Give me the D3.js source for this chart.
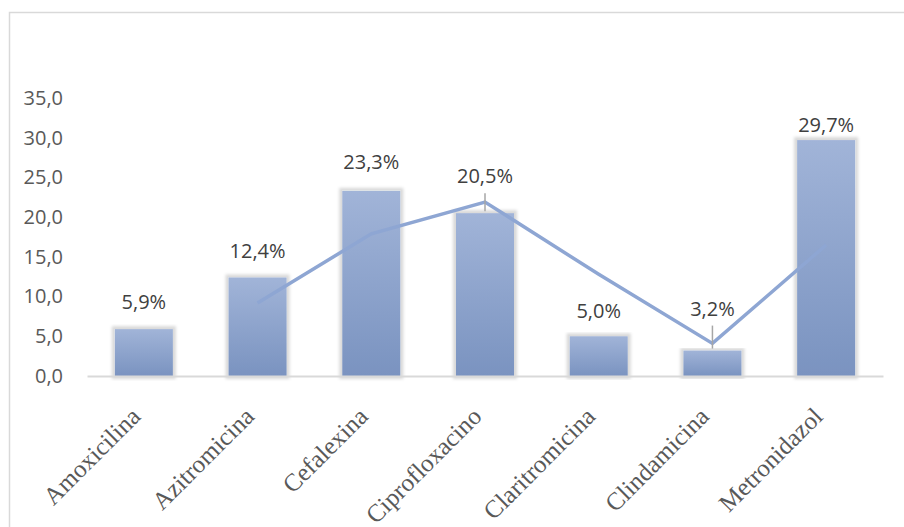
<!doctype html>
<meta charset="utf-8">
<script src="https://d3js.org/d3.v7.min.js"></script>
<style>
  body { margin: 0; background: #fff; }
</style>
<body></body>
<script>

var width = 904;
var height = 527;

// data
var categories = ["Amoxicilina", "Azitromicina", "Cefalexina", "Ciprofloxacino", "Claritromicina", "Clindamicina", "Metronidazol"];
var percents = [5.9, 12.4, 23.3, 20.5, 5.0, 3.2, 29.7];
var trend = [null, 9.2, 17.9, 21.9, 12.8, 4.1, 16.5];
var yTicks = [0, 5, 10, 15, 20, 25, 30, 35];

// label lift above bar top (px), and which labels get a leader line
var labelLift = {"Cefalexina": 22, "Ciprofloxacino": 30, "Claritromicina": 18, "Clindamicina": 35, "Metronidazol": 8};
var leaders = ["Ciprofloxacino", "Clindamicina"];

var svg = d3.select("body")
        .append("svg")
        .attr("width", width)
        .attr("height", height);

var defs = svg.append("defs");

var grad = defs.append("linearGradient")
        .attr("id", "barFill")
        .attr("x1", 0).attr("y1", 0)
        .attr("x2", 0).attr("y2", 1);
grad.append("stop").attr("offset", "0%").attr("stop-color", "#a1b4d8");
grad.append("stop").attr("offset", "100%").attr("stop-color", "#7a93c0");

var shadow = defs.append("filter")
        .attr("id", "shadow")
        .attr("x", "-30%").attr("y", "-10%")
        .attr("width", "160%").attr("height", "120%");
shadow.append("feMorphology")
        .attr("in", "SourceAlpha")
        .attr("operator", "dilate")
        .attr("radius", 3)
        .attr("result", "grown");
shadow.append("feGaussianBlur")
        .attr("in", "grown")
        .attr("stdDeviation", 1.5)
        .attr("result", "blur");
shadow.append("feFlood").attr("flood-color", "#000").attr("flood-opacity", 0.15);
shadow.append("feComposite").attr("in2", "blur").attr("operator", "in").attr("result", "sh");
var merge = shadow.append("feMerge");
merge.append("feMergeNode").attr("in", "sh");
merge.append("feMergeNode").attr("in", "SourceGraphic");

// chart border (runs off the right and bottom of the picture)
svg.append("rect")
        .attr("x", 9.5)
        .attr("y", 12.5)
        .attr("width", 920)
        .attr("height", 540)
        .style("fill", "none")
        .style("stroke", "#d9d9d9")
        .style("stroke-width", 1.5);

var x = d3.scaleBand()
        .domain(categories)
        .range([87, 883])
        .paddingInner(0.49)
        .paddingOuter(0.245);

var y = d3.scaleLinear()
        .domain([0, 35])
        .range([376, 98]);

// y axis labels, no line
var yAxis = svg.append("g")
        .attr("transform", "translate(63,0)")
        .call(d3.axisLeft(y).tickValues(yTicks).tickSize(0).tickPadding(0)
                .tickFormat(function(d){ return d3.format(".1f")(d).replace(".", ","); }));
yAxis.select(".domain").remove();
yAxis.selectAll("text")
        .style("font-family", "'Open Sans', sans-serif")
        .style("font-size", "20px")
        .style("fill", "#595959");

// bars
svg.append("g").selectAll("rect")
        .data(categories)
        .enter().append("rect")
        .attr("x", function(d){ return x(d); })
        .attr("y", function(d, i){ return y(percents[i]); })
        .attr("width", x.bandwidth())
        .attr("height", function(d, i){ return y(0) - y(percents[i]); })
        .attr("filter", "url(#shadow)")
        .style("fill", "url(#barFill)");

// x axis line
var xAxis = svg.append("g")
        .attr("transform", "translate(0," + y(0) + ")")
        .call(d3.axisBottom(x).tickSize(0).tickPadding(0));
xAxis.select(".domain")
        .style("stroke", "#d9d9d9")
        .style("stroke-width", 2);
xAxis.selectAll(".tick text")
        .attr("text-anchor", "end")
        .attr("dy", 0)
        .attr("transform", "translate(-2,42) rotate(-45)")
        .style("font-family", "'Liberation Serif', 'Times New Roman', serif")
        .style("font-size", "25px")
        .style("fill", "#595959");

// trend line
var line = d3.line()
        .defined(function(d){ return d != null; })
        .x(function(d, i){ return x(categories[i]) + x.bandwidth() / 2; })
        .y(function(d){ return y(d); });

svg.append("path")
        .attr("d", line(trend))
        .style("fill", "none")
        .style("stroke", "#8ea6d3")
        .style("stroke-width", 3.5);

// leader lines
svg.append("g").selectAll("line")
        .data(leaders)
        .enter().append("line")
        .attr("x1", function(d){ return x(d) + x.bandwidth() / 2; })
        .attr("x2", function(d){ return x(d) + x.bandwidth() / 2; })
        .attr("y1", function(d){ return y(percents[categories.indexOf(d)]) - labelLift[d] + 10; })
        .attr("y2", function(d){ return y(percents[categories.indexOf(d)]) - 2; })
        .style("stroke", "#a6a6a6")
        .style("stroke-width", 1.5);

// data labels
svg.append("g").selectAll("text")
        .data(categories)
        .enter().append("text")
        .attr("x", function(d){ return x(d) + x.bandwidth() / 2; })
        .attr("y", function(d, i){ return y(percents[i]) - (labelLift[d] || 20); })
        .attr("text-anchor", "middle")
        .style("font-family", "'Open Sans', sans-serif")
        .style("font-size", "20px")
        .style("fill", "#404040")
        .text(function(d, i){ return d3.format(".1f")(percents[i]).replace(".", ",") + "%"; });

</script>
